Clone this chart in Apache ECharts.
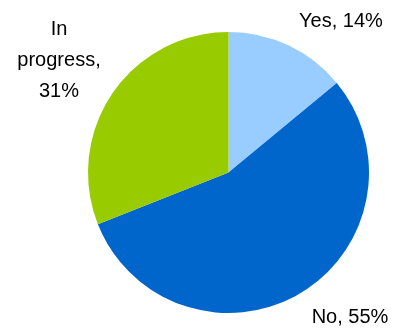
<!DOCTYPE html>
<html>
<head>
<meta charset="utf-8">
<script src="https://cdn.jsdelivr.net/npm/echarts@6/dist/echarts.min.js"></script>
<style>
  html, body { margin: 0; padding: 0; background: #fff; }
  #chart { width: 393px; height: 330px; }
</style>
</head>
<body>
<div id="chart"></div>
<script>
const categories = ['Yes', 'No', 'In progress'];
const shares = [14, 55, 31];
const colors = ['#99CCFF', '#0066CC', '#99CC00'];

// where each label sits on the canvas (centre of the text block)
const labelSpots = [
  { x: 341, y: 21 },
  { x: 350, y: 317 },
  { x: 59, y: 60 }
];

const chart = echarts.init(document.getElementById('chart'));

chart.setOption({
  animation: false,
  series: [{
    type: 'pie',
    center: [228.5, 172.5],
    radius: 140.5,
    startAngle: 90,
    clockwise: true,
    silent: true,
    data: categories.map((name, i) => ({
      name,
      value: shares[i],
      itemStyle: { color: colors[i] },
      label: i === 2 ? { formatter: 'In\nprogress,\n{c}%' } : {}
    })),
    label: {
      show: true,
      position: 'outside',
      formatter: '{b}, {c}%',
      color: '#000',
      fontFamily: 'Liberation Sans, Arial, sans-serif',
      fontSize: 20,
      lineHeight: 31,
      overflow: 'none',
      width: 200,
      align: 'center'
    },
    labelLine: { show: false },
    labelLayout: (params) => {
      const p = labelSpots[params.dataIndex];
      return { x: p.x, y: p.y, align: 'center', verticalAlign: 'middle' };
    }
  }]
});
</script>
</body>
</html>
